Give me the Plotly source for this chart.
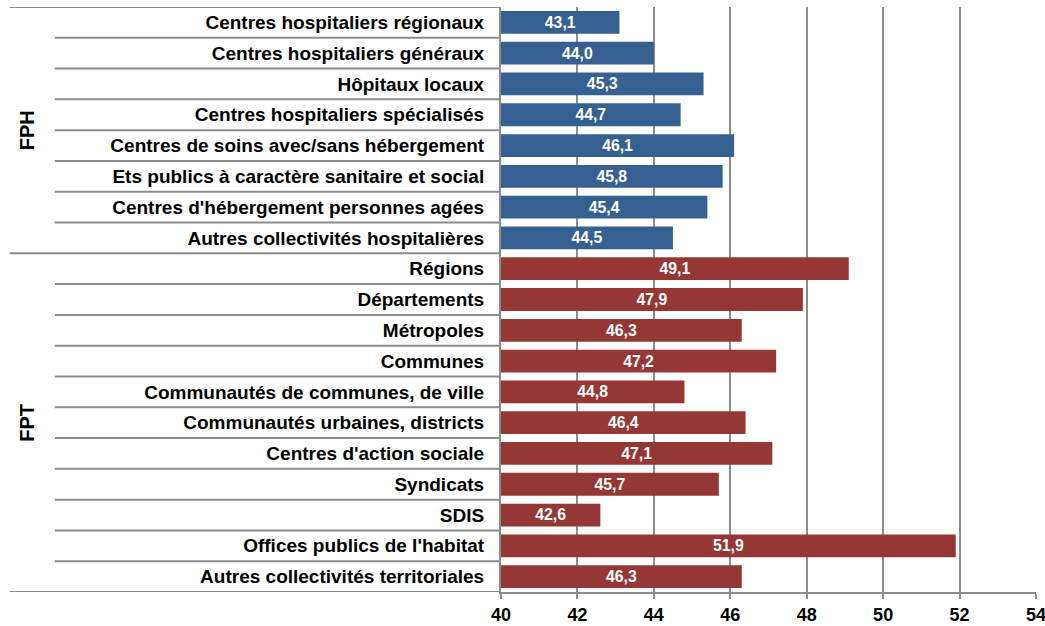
import plotly.graph_objects as go

categories = [
    "Centres hospitaliers régionaux",
    "Centres hospitaliers généraux",
    "Hôpitaux locaux",
    "Centres hospitaliers spécialisés",
    "Centres de soins avec/sans hébergement",
    "Ets publics à caractère sanitaire et social",
    "Centres d'hébergement personnes agées",
    "Autres collectivités hospitalières",
    "Régions",
    "Départements",
    "Métropoles",
    "Communes",
    "Communautés de communes, de ville",
    "Communautés urbaines, districts",
    "Centres d'action sociale",
    "Syndicats",
    "SDIS",
    "Offices publics de l'habitat",
    "Autres collectivités territoriales",
]
values = [43.1, 44.0, 45.3, 44.7, 46.1, 45.8, 45.4, 44.5,
          49.1, 47.9, 46.3, 47.2, 44.8, 46.4, 47.1, 45.7, 42.6, 51.9, 46.3]
groups = ["FPH"] * 8 + ["FPT"] * 11
group_colors = {"FPH": "#376092", "FPT": "#953735"}

font = "Liberation Sans, Arial, sans-serif"
grid = "#8c8c8c"
base = 40

fig = go.Figure()
fig.add_trace(go.Bar(
    y=list(range(len(categories))),
    x=[v - base for v in values],
    base=base,
    orientation="h",
    width=0.74,
    marker=dict(color=[group_colors[g] for g in groups], line=dict(width=0)),
    text=[f"{v:.1f}".replace(".", ",") for v in values],
    textposition="inside",
    insidetextanchor="middle",
    textangle=0,
    textfont=dict(family=font, size=16, color="white", weight="bold"),
    hoverinfo="skip",
))

# separator lines on the category axis
shapes = []
n = len(categories)
for i in range(n + 1):
    edge = i == 0 or i == n or groups[i - 1] != groups[min(i, n - 1)]
    shapes.append(dict(
        type="line", xref="paper", yref="y",
        x0=-0.918 if edge else -0.834, x1=0,
        y0=i - 0.5, y1=i - 0.5,
        line=dict(color=grid, width=2),
    ))

annotations = []
for g in ["FPH", "FPT"]:
    idx = [i for i, gg in enumerate(groups) if gg == g]
    annotations.append(dict(
        x=-0.91, xref="paper", y=(idx[0] + idx[-1]) / 2, yref="y",
        text=g, showarrow=False, textangle=-90,
        font=dict(family=font, size=20, color="black", weight="bold"),
    ))

fig.update_layout(
    width=1045, height=626,
    margin=dict(l=501, r=9, t=7, b=34, autoexpand=False),
    paper_bgcolor="white", plot_bgcolor="white",
    showlegend=False,
    shapes=shapes,
    annotations=annotations,
    xaxis=dict(
        range=[40, 54], dtick=2, tick0=40,
        showgrid=True, gridcolor=grid, gridwidth=2,
        showline=True, linecolor=grid, linewidth=2,
        ticks="outside", ticklen=5, tickcolor=grid, tickwidth=2,
        tickfont=dict(family=font, size=18, color="black", weight="bold"),
        ticklabeloverflow="allow", ticklabelstandoff=0, automargin=False,
        zeroline=False,
    ),
    yaxis=dict(
        range=[n - 0.5, -0.5],
        tickmode="array", tickvals=list(range(n)), ticktext=categories,
        showgrid=False, zeroline=False,
        showline=True, linecolor=grid, linewidth=2,
        ticks="", ticklabelstandoff=11, automargin=False,
        tickfont=dict(family=font, size=19, color="black", weight="bold"),
    ),
)

# drop the default body margin so the figure fills the window exactly
fig.write_html("out.html", config={"displayModeBar": False},
               post_script="document.body.style.margin='0';")
